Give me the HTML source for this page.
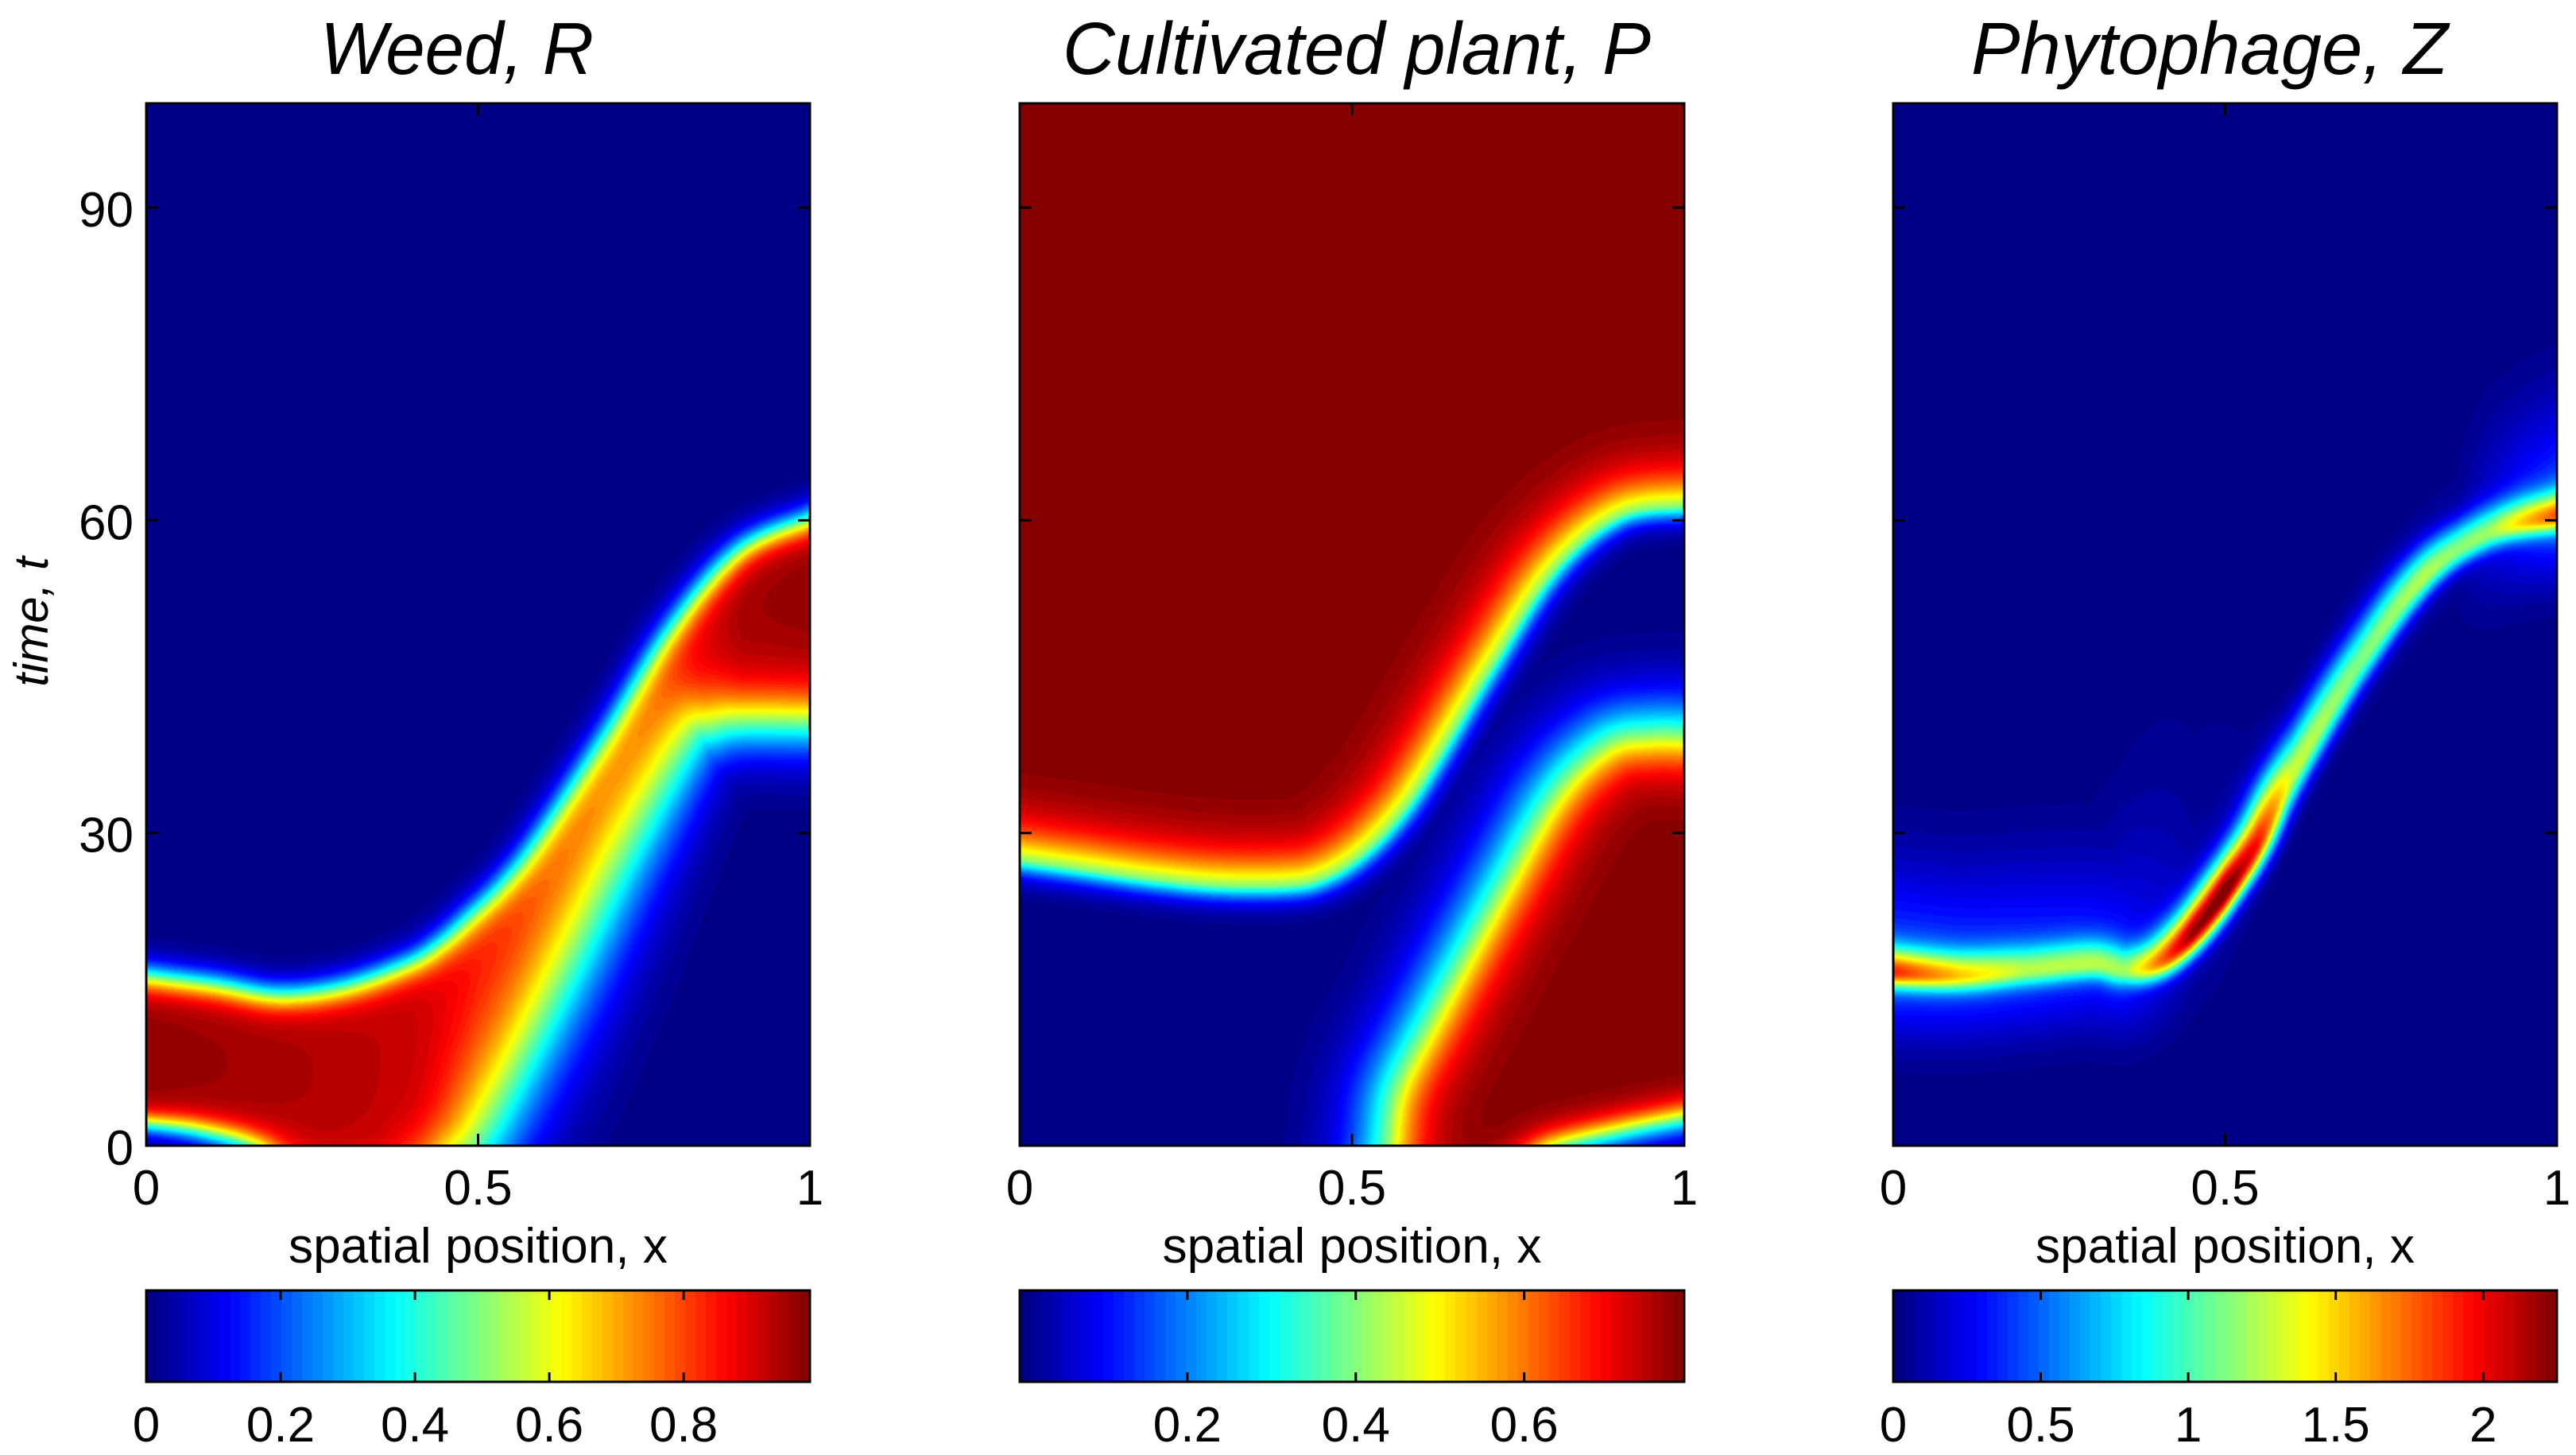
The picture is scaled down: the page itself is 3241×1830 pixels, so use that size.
<!DOCTYPE html>
<html><head><meta charset="utf-8">
<style>
html,body{margin:0;padding:0;background:#fff;}
#root{position:relative;width:3241px;height:1830px;overflow:hidden;background:#fff;}
canvas{position:absolute;}
svg{position:absolute;left:0;top:0;}
text{font-family:"Liberation Sans",sans-serif;fill:#000;}
</style></head>
<body>
<div id="root">
<canvas id="cR" width="835" height="1311" style="left:184px;top:130px"></canvas>
<canvas id="cP" width="836" height="1311" style="left:1283px;top:130px"></canvas>
<canvas id="cZ" width="835" height="1311" style="left:2382px;top:130px"></canvas>
<canvas id="bR" width="835" height="115" style="left:184px;top:1623px"></canvas>
<canvas id="bP" width="836" height="115" style="left:1283px;top:1623px"></canvas>
<canvas id="bZ" width="835" height="115" style="left:2382px;top:1623px"></canvas>
<svg id="ov" width="3241" height="1830">
<text x="575" y="93" font-size="93" font-style="italic" text-anchor="middle" textLength="344" lengthAdjust="spacingAndGlyphs">Weed, R</text>
<text x="1707" y="93" font-size="93" font-style="italic" text-anchor="middle" textLength="740" lengthAdjust="spacingAndGlyphs">Cultivated plant, P</text>
<text x="2780" y="93" font-size="93" font-style="italic" text-anchor="middle" textLength="600" lengthAdjust="spacingAndGlyphs">Phytophage, Z</text>
<text transform="translate(60,782) rotate(-90)" font-size="60" font-style="italic" text-anchor="middle">time, t</text>
</svg>
</div>
<script>
// ---- data ----
const tMax = 100;
const xTickVals = [0, 0.5, 1];
const xTickLabels = ["0", "0.5", "1"];
const yTickVals = [0, 30, 60, 90];
const yTickLabels = ["0", "30", "60", "90"];
// Weed R: upper edge of red band
const rUpX = [0,0.1,0.2,0.3,0.4,0.45,0.5,0.55,0.6,0.7,0.8,0.9,1.0];
const rUpT = [15.4,14.6,13.6,14.4,16.7,18.7,21.6,24.8,28.9,38.7,49,56.3,59.2];
// Weed R: lower edge of red band
const rLoX = [0,0.08,0.17,0.25,0.35,0.42,0.46,0.5,0.6,0.7,0.8,0.85,0.9,1.0];
const rLoT = [2.6,2.0,0.4,-3,-4,-2,0,3.3,15.5,28.5,39.8,41.5,42,42];
const rLoW = [0.7,0.8,0.9,1.2,1.6,2.0,2.4,2.6,2.6,2.6,2.4,2.2,2.0,2.0];
const rAmpX = [0,0.2,0.4,0.5,0.6,0.7,0.8,0.9,1.0];
const rAmp = [0.97,0.95,0.92,0.88,0.86,0.86,0.9,0.96,0.97];
// Cultivated P: lower edge of top red region
const pAX = [0,0.1,0.2,0.3,0.4,0.45,0.5,0.55,0.6,0.7,0.8,0.9,1.0];
const pAT = [27.8,26.9,26.0,25.4,25.4,26.0,27.8,30.8,35.1,45.8,55.6,60.8,61.8];
// Cultivated P: left edge of lower-right red region
const pBX = [0.56,0.574,0.587,0.638,0.746,0.823,0.893,0.95,1.0];
const pBT = [-4,0,5,11.5,24.3,32.9,37.2,38,38];
// Cultivated P: bottom edge of lower-right red region
const pCX = [0.7,0.75,0.8,0.9,1.0];
const pCT = [-4,-2,0,1.6,2.9];
const pMax = 0.79;
// Phytophage Z: ridge
const zX = [0,0.1,0.2,0.3,0.35,0.4,0.45,0.5,0.55,0.6,0.7,0.8,0.9,1.0];
const zT = [16.6,16.3,16.8,17.4,16.8,17.6,20.3,24.3,29,35.4,46,54.5,58.8,60.4];
const zAmp = [1.45,1.1,0.85,0.9,0.85,1.5,2.1,2.25,1.9,1.3,1.1,1.2,1.0,1.35];
const zGlowX = [0,0.2,0.35,0.45,0.6,0.85,0.95,1.0];
const zGlow = [0.45,0.4,0.35,0.1,0.0,0.05,0.35,0.45];
// colour limits and colorbar ticks
const rLim = [0, 0.988];
const pLim = [0.001, 0.79];
const zLim = [0, 2.25];
const rBarTicks = [0,0.2,0.4,0.6,0.8];
const rBarLabels = ["0","0.2","0.4","0.6","0.8"];
const pBarTicks = [0.2,0.4,0.6];
const pBarLabels = ["0.2","0.4","0.6"];
const zBarTicks = [0,0.5,1,1.5,2];
const zBarLabels = ["0","0.5","1","1.5","2"];

// ---- geometry ----
const panels = [{L:184,W:835},{L:1283,W:836},{L:2382,W:835}];
const TOP = 130, BOT = 1441, H = BOT - TOP;
const pxPerT = H / tMax;
const STEP = 4;

function interp1(xs, ys, x){
  const n = xs.length;
  if (x <= xs[0]) return ys[0];
  if (x >= xs[n-1]) return ys[n-1];
  let i = 0; while (x > xs[i+1]) i++;
  const u = (x - xs[i])/(xs[i+1]-xs[i]);
  return ys[i]*(1-u)+ys[i+1]*u;
}
function polyline(xs, ts, W){
  const P = xs.map((x,i)=>[x*(W-1), ts[i]*pxPerT]);
  const n = P.length, out = [];
  const a0=P[0], a1=P[1];
  out.push([a0[0]-(a1[0]-a0[0])*60, a0[1]-(a1[1]-a0[1])*60]);
  for (let i=0;i<n-1;i++){
    const p0=P[Math.max(0,i-1)], p1=P[i], p2=P[i+1], p3=P[Math.min(n-1,i+2)];
    for (let k=0;k<16;k++){
      const u=k/16,u2=u*u,u3=u2*u;
      const f=(a,b,c,d)=>0.5*((2*b)+(-a+c)*u+(2*a-5*b+4*c-d)*u2+(-a+3*b-3*c+d)*u3);
      out.push([f(p0[0],p1[0],p2[0],p3[0]), f(p0[1],p1[1],p2[1],p3[1])]);
    }
  }
  const b0=P[n-2], b1=P[n-1];
  out.push(b1);
  out.push([b1[0]+(b1[0]-b0[0])*60, b1[1]+(b1[1]-b0[1])*60]);
  return out;
}
function sdGrid(xs, ts, W){
  const pl = polyline(xs, ts, W);
  const gw = Math.ceil((W-1)/STEP)+2, gh = Math.ceil((H-1)/STEP)+2;
  const g = new Float32Array(gw*gh);
  const m = pl.length-1;
  for (let gj=0; gj<gh; gj++){
    const py = gj*STEP;
    for (let gi=0; gi<gw; gi++){
      const px = gi*STEP;
      let best=1e18, sgn=1;
      for (let s=0;s<m;s++){
        const ax=pl[s][0], ay=pl[s][1], dx=pl[s+1][0]-ax, dy=pl[s+1][1]-ay;
        const L=dx*dx+dy*dy; if (L===0) continue;
        let u=((px-ax)*dx+(py-ay)*dy)/L; u=u<0?0:u>1?1:u;
        const ex=px-ax-u*dx, ey=py-ay-u*dy, d=ex*ex+ey*ey;
        if (d<best){ best=d; sgn=(dx*(py-ay)-dy*(px-ax))>=0?1:-1; }
      }
      g[gj*gw+gi]=sgn*Math.sqrt(best)/pxPerT;
    }
  }
  return {g,gw};
}
function sample(G, i, jy){
  const fx=i/STEP, fy=jy/STEP, x0=Math.floor(fx), y0=Math.floor(fy), u=fx-x0, v=fy-y0, w=G.gw, g=G.g;
  return (g[y0*w+x0]*(1-u)+g[y0*w+x0+1]*u)*(1-v)+(g[(y0+1)*w+x0]*(1-u)+g[(y0+1)*w+x0+1]*u)*v;
}
const sig = v => 1/(1+Math.exp(-v));
function jet(v){
  v = Math.max(0, Math.min(1, v));
  v = (Math.floor(v*63.999)+0.5)/64;
  const cl = q => Math.max(0, Math.min(1, q));
  return [cl(1.5-Math.abs(4*v-3))*255, cl(1.5-Math.abs(4*v-2))*255, cl(1.5-Math.abs(4*v-1))*255];
}
function render(id, W, fn, lim){
  const cv = document.getElementById(id), ctx = cv.getContext('2d');
  const img = ctx.createImageData(W, H), d = img.data;
  for (let j=0;j<H;j++){
    const jy = H-1-j;
    for (let i=0;i<W;i++){
      const v = fn(i, jy);
      const c = jet((v-lim[0])/(lim[1]-lim[0]));
      const k=(j*W+i)*4; d[k]=c[0]; d[k+1]=c[1]; d[k+2]=c[2]; d[k+3]=255;
    }
  }
  ctx.putImageData(img,0,0);
}

// Weed R
(function(){
  const W = panels[0].W;
  const up = sdGrid(rUpX, rUpT, W), lo = sdGrid(rLoX, rLoT, W);
  const amp = new Float32Array(W), lw = new Float32Array(W);
  for (let i=0;i<W;i++){ amp[i]=interp1(rAmpX,rAmp,i/(W-1)); lw[i]=interp1(rLoX,rLoW,i/(W-1)); }
  render('cR', W, (i,jy)=>{
    const du=-sample(up,i,jy), dl=sample(lo,i,jy);
    return amp[i]*sig((du+0.8)/0.9)*sig((dl+0.75*lw[i])/lw[i]);
  }, rLim);
})();
// Cultivated P
(function(){
  const W = panels[1].W;
  const A = sdGrid(pAX,pAT,W), B = sdGrid(pBX,pBT,W), C = sdGrid(pCX,pCT,W);
  render('cP', W, (i,jy)=>{
    const da=sample(A,i,jy)+0.5;
    const sa=sig(da/(da>0?2.0:0.9));
    const db=-sample(B,i,jy)+1.4, dc=sample(C,i,jy)+0.3;
    const sb=sig(db/(db>0?2.0:2.4))*sig(dc/1.0);
    return pMax*Math.max(sa,sb);
  }, pLim);
})();
// Phytophage Z
(function(){
  const W = panels[2].W;
  const R = sdGrid(zX,zT,W);
  const amp = new Float32Array(W), gl = new Float32Array(W);
  for (let i=0;i<W;i++){ amp[i]=interp1(zX,zAmp,i/(W-1)); gl[i]=interp1(zGlowX,zGlow,i/(W-1)); }
  render('cZ', W, (i,jy)=>{
    const d=sample(R,i,jy);
    const w = d>0?2.3:1.5;
    const ridge = amp[i]*Math.exp(-(d/w)*(d/w));
    const gw = d>0?10:6;
    const glow = gl[i]*Math.exp(-(d/gw)*(d/gw));
    return ridge+glow;
  }, zLim);
})();
// colorbars
function bar(id, W){
  const cv=document.getElementById(id), ctx=cv.getContext('2d');
  for (let i=0;i<W;i++){
    const c=jet(i/(W-1));
    ctx.fillStyle='rgb('+c.map(Math.round).join(',')+')';
    ctx.fillRect(i,0,1,115);
  }
}
bar('bR',panels[0].W); bar('bP',panels[1].W); bar('bZ',panels[2].W);

// ---- axes overlay ----
const NS='http://www.w3.org/2000/svg';
const ov=document.getElementById('ov');
function mk(tag, attrs){ const e=document.createElementNS(NS,tag); for(const k in attrs) e.setAttribute(k,attrs[k]); ov.appendChild(e); return e; }
const xScale=(p,v)=>p.L+v*p.W;
const yScale=v=>BOT-v*pxPerT;
panels.forEach((p,pi)=>{
  const fr=mk('rect',{x:p.L,y:TOP,width:p.W,height:H,fill:'none',stroke:'#000','stroke-width':3});
  
  
  xTickVals.forEach((v,k)=>{
    const x=xScale(p,v);
    const t1=mk('line',{x1:x,y1:BOT,x2:x,y2:BOT-15,stroke:'#000','stroke-width':3});
    
    
    const t2=mk('line',{x1:x,y1:TOP,x2:x,y2:TOP+15,stroke:'#000','stroke-width':3});
    
    
    const tx=mk('text',{x:x,y:1515,'font-size':62,'text-anchor':'middle'});
    tx.textContent=xTickLabels[k];
    
    
  });
  yTickVals.forEach((v,k)=>{
    const y=yScale(v);
    const t1=mk('line',{x1:p.L,y1:y,x2:p.L+15,y2:y,stroke:'#000','stroke-width':3});
    
    
    const t2=mk('line',{x1:p.L+p.W,y1:y,x2:p.L+p.W-15,y2:y,stroke:'#000','stroke-width':3});
    
    
    if(pi===0){
      const tx=mk('text',{x:168,y:y+24,'font-size':62,'text-anchor':'end'});
      tx.textContent=yTickLabels[k];
      
      
    }
  });
  const xl=mk('text',{x:p.L+p.W/2,y:1588,'font-size':62,'text-anchor':'middle',textLength:477,lengthAdjust:'spacingAndGlyphs'});
  xl.textContent='spatial position, x';
  
  
  const bf=mk('rect',{x:p.L,y:1623,width:p.W,height:115,fill:'none',stroke:'#000','stroke-width':3});
  
  
});
function barTicks(p, lim, vals, labels){
  vals.forEach((v,k)=>{
    const x=p.L+(v-lim[0])/(lim[1]-lim[0])*p.W;
    const a=mk('line',{x1:x,y1:1623,x2:x,y2:1635,stroke:'#000','stroke-width':3});
    
    
    const b=mk('line',{x1:x,y1:1738,x2:x,y2:1726,stroke:'#000','stroke-width':3});
    
    
    const tx=mk('text',{x:x,y:1813,'font-size':62,'text-anchor':'middle'});
    tx.textContent=labels[k];
    
    
  });
}
barTicks(panels[0],rLim,rBarTicks,rBarLabels);
barTicks(panels[1],pLim,pBarTicks,pBarLabels);
barTicks(panels[2],zLim,zBarTicks,zBarLabels);
</script>
</body></html>
